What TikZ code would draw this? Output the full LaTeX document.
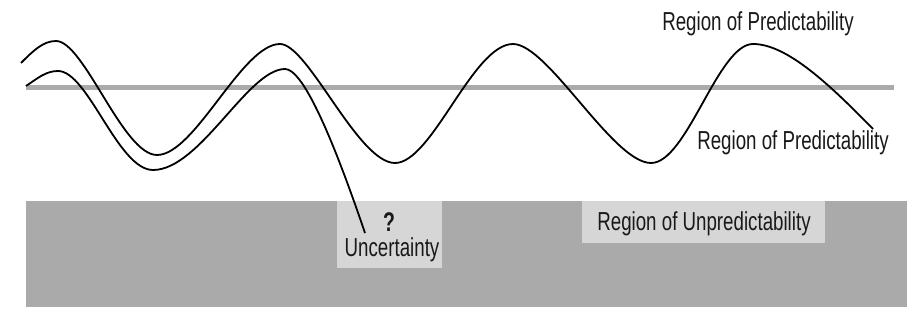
\documentclass[tikz,border=0pt]{standalone}
\usepackage{fontspec}
\newfontfamily\condfont[FakeStretch=0.72]{Liberation Sans}
\newfontfamily\condbold[FakeStretch=0.72]{Liberation Sans Bold}
\definecolor{bandgray}{RGB}{170,170,170}
\definecolor{boxgray}{RGB}{214,214,214}
\tikzset{
  lbl/.style={anchor=base, inner sep=0pt, font=\condfont\fontsize{26}{28}\selectfont, text=black!90},
  wave/.style={draw=black, line width=1.8pt, line join=round},
}
\begin{document}
\begin{tikzpicture}[x=1pt,y=-1pt]
\useasboundingbox (0,0) rectangle (907,328);
% gray region
\fill[bandgray] (26,201) rectangle (907,307);
\fill[boxgray] (337,201) rectangle (442,268);
\fill[boxgray] (582,201) rectangle (825,243);
% horizontal line
\draw[bandgray, line width=5pt] (26,88) -- (894,88);
% curve 1
\draw[wave] (21,63) .. controls (33,51) and (43,41) .. (56,41)
  .. controls (84,41) and (123,155) .. (157,155)
  .. controls (195,155) and (242,44) .. (280,44)
  .. controls (308,44) and (358,163) .. (395,163)
  .. controls (432,163) and (473,44) .. (513,44)
  .. controls (548,44) and (613,163) .. (651,163)
  .. controls (687,163) and (718,44) .. (753,44)
  .. controls (787,44) and (830,85) .. (873,129);
% curve 2
\draw[wave] (26,86) .. controls (38,78) and (46,71) .. (58,71)
  .. controls (88,71) and (118,170) .. (153,170)
  .. controls (200,170) and (248,69) .. (285,69)
  .. controls (302,69) and (330,130) .. (365,233);
% labels
\node[lbl] (top) at (758,31) {Region of Predictability};
\node[lbl] (mid) at (793,150) {Region of Predictability};
\node[lbl] (unp) at (704,231) {Region of Unpredictability};
\node[lbl, font=\condbold\fontsize{27}{29}\selectfont] (q) at (389,232) {?};
\node[lbl] (unc) at (392,257) {Uncertainty};
\end{tikzpicture}
\end{document}
